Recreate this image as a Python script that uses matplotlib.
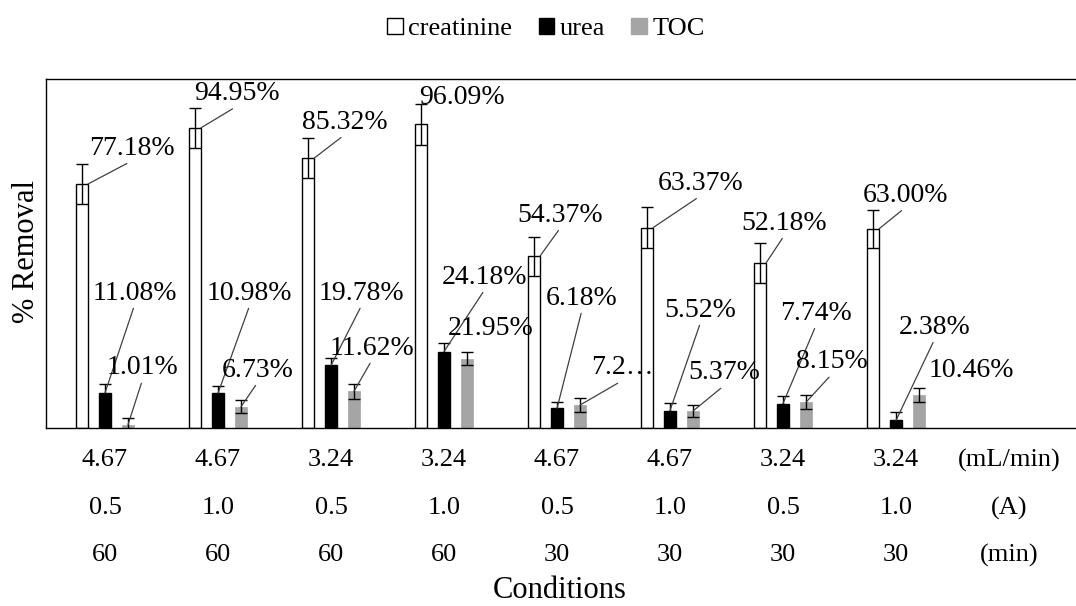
import numpy as np
import matplotlib
matplotlib.use("Agg")
import matplotlib.pyplot as plt
from matplotlib.patches import Patch

plt.rcParams["font.family"] = ["Liberation Serif", "DejaVu Serif"]

# ---- data ----
flow = ["4.67", "4.67", "3.24", "3.24", "4.67", "4.67", "3.24", "3.24"]
current = ["0.5", "1.0", "0.5", "1.0", "0.5", "1.0", "0.5", "1.0"]
minutes = ["60", "60", "60", "60", "30", "30", "30", "30"]
units = ["(mL/min)", "(A)", "(min)"]

creatinine = [77.18, 94.95, 85.32, 96.09, 54.37, 63.37, 52.18, 63.00]
urea = [11.08, 10.98, 19.78, 24.18, 6.18, 5.52, 7.74, 2.38]
toc = [1.01, 6.73, 11.62, 21.95, 7.25, 5.37, 8.15, 10.46]

creatinine_err = [6.3, 6.3, 6.3, 6.5, 6.2, 6.4, 6.3, 6.0]
urea_err = [2.8, 2.3, 2.3, 2.7, 2.2, 2.5, 2.4, 2.7]
toc_err = [2.2, 2.0, 2.4, 2.0, 2.1, 2.0, 2.2, 2.2]

# label text positions (x in category units, y in %)
creat_lbl = [(0.24, 88.5), (1.17, 105.8), (2.12, 96.7), (3.16, 104.6),
             (4.03, 67.3), (5.27, 77.4), (6.01, 64.8), (7.08, 73.6)]
urea_lbl = [(0.26, 42.7), (1.28, 42.7), (2.27, 42.7), (3.36, 47.7),
            (4.22, 41.1), (5.27, 37.3), (6.29, 36.3), (7.34, 31.9)]
toc_lbl = [(0.33, 19.0), (1.35, 18.3), (2.36, 25.3), (3.41, 31.6),
           (4.58, 19.0), (5.48, 17.4), (6.43, 20.9), (7.67, 18.3)]
no_leader = {("creat", 3), ("toc", 3), ("toc", 7)}
label_override = {("toc", 4): "7.2\u2026"}

# ---- plot ----
fig = plt.figure(figsize=(10.76, 6.06), dpi=100)
ax = fig.add_axes([46 / 1076, 1 - 428 / 606, 1 - 46 / 1076, (428 - 79) / 606])

x = np.arange(len(flow))
off = 0.2035
w = 0.106
gray = "#a5a5a5"
ekw = dict(ecolor="black", elinewidth=1.0, capsize=4.5, capthick=1.0, zorder=4)

ax.bar(x - off, creatinine, w, color="white", edgecolor="black", linewidth=1.0, zorder=2)
ax.bar(x, urea, w, color="black", edgecolor="black", linewidth=1.0, zorder=2)
ax.bar(x + off, toc, w, color=gray, edgecolor=gray, linewidth=0.5, zorder=2)
ax.errorbar(x - off, creatinine, yerr=creatinine_err, fmt="none", **ekw)
ax.errorbar(x, urea, yerr=urea_err, fmt="none", **ekw)
ax.errorbar(x + off, toc, yerr=toc_err, fmt="none", **ekw)

series = [("creat", creatinine, creat_lbl, x - off + w / 2),
          ("urea", urea, urea_lbl, x),
          ("toc", toc, toc_lbl, x + off)]
for key, vals, lbls, tx in series:
    for i, v in enumerate(vals):
        txt = label_override.get((key, i), f"{v:.2f}%")
        if (key, i) in no_leader:
            ax.text(lbls[i][0], lbls[i][1], txt, ha="center", va="center",
                    fontsize=20, zorder=5)
        else:
            ax.annotate(txt, xy=(tx[i], v), xytext=lbls[i], ha="center", va="center",
                        fontsize=20, zorder=5,
                        arrowprops=dict(arrowstyle="-", color="#404040", lw=0.9,
                                        shrinkA=0, shrinkB=0, relpos=(0.5, 0.0)))

ax.set_xlim(-0.522, (1076 - 105) / 113)
ax.set_ylim(0, 110.4)
ax.set_xticks([])
ax.set_yticks([])
ax.spines["right"].set_visible(False)
for s in ["left", "top", "bottom"]:
    ax.spines[s].set_linewidth(1.0)

# condition rows under the axis
rows_y = [460, 508, 555]
trans = matplotlib.transforms.blended_transform_factory(ax.transData, fig.transFigure)
for row, py in zip([flow, current, minutes], rows_y):
    for i, t in enumerate(row):
        fig.text(x[i], 1 - py / 606, t, ha="center", va="center", fontsize=19,
                 transform=trans)
for u, py in zip(units, rows_y):
    fig.text(8.0, 1 - py / 606, u, ha="center", va="center", fontsize=19,
             transform=trans)

fig.text(560 / 1076, 1 - 590 / 606, "Conditions", ha="center", va="center", fontsize=22)
fig.text(27 / 1076, 1 - 251 / 606, "% Removal", ha="center", va="center",
         rotation=90, fontsize=22)

handles = [Patch(facecolor="white", edgecolor="black", linewidth=1.0),
           Patch(facecolor="black", edgecolor="black"),
           Patch(facecolor=gray, edgecolor=gray)]
fig.legend(handles, ["creatinine", "urea", "TOC"], loc="center",
           bbox_to_anchor=(546 / 1076, 1 - 29 / 606), ncol=3, frameon=False,
           fontsize=19, handlelength=0.6, handleheight=0.6, handletextpad=0.2,
           columnspacing=1.0)

fig.savefig("out.png", dpi=100)
